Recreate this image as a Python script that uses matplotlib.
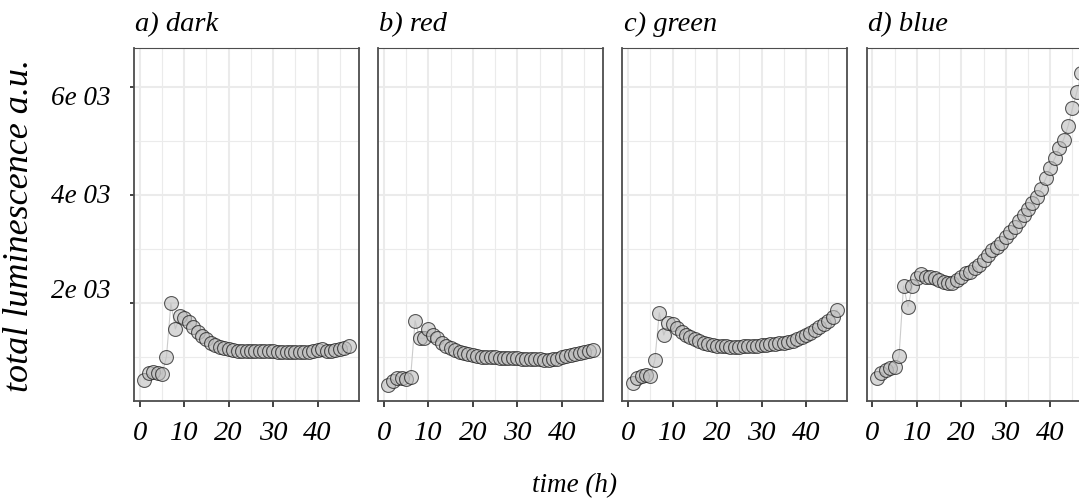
import matplotlib.pyplot as plt
from matplotlib.ticker import FixedLocator, MultipleLocator
from matplotlib.transforms import ScaledTranslation

# hourly readings, t = 1..47 h
hours = list(range(1, 48))
dark = [565, 689, 719, 700, 676, 997, 1990, 1512, 1753, 1710,
        1647, 1543, 1462, 1382, 1320, 1257, 1214, 1183, 1153, 1134,
        1115, 1105, 1100, 1100, 1098, 1100, 1102, 1100, 1098, 1095,
        1090, 1088, 1085, 1083, 1080, 1080, 1082, 1088, 1100, 1115,
        1140, 1105, 1110, 1125, 1140, 1160, 1196]
red = [472, 552, 596, 596, 578, 626, 1666, 1339, 1339, 1512,
       1400, 1339, 1257, 1196, 1153, 1122, 1090, 1066, 1041, 1029,
       1010, 1000, 995, 990, 985, 980, 975, 970, 968, 965,
       960, 958, 955, 952, 950, 945, 945, 950, 960, 1000,
       1010, 1030, 1050, 1070, 1090, 1100, 1122]
green = [514, 596, 639, 657, 639, 936, 1814, 1400, 1617, 1604,
         1524, 1462, 1400, 1357, 1320, 1289, 1257, 1233, 1214, 1201,
         1196, 1190, 1175, 1175, 1183, 1190, 1196, 1200, 1205, 1214,
         1220, 1227, 1236, 1245, 1257, 1276, 1295, 1320, 1357, 1400,
         1443, 1493, 1543, 1604, 1666, 1740, 1864]
blue = [596, 689, 750, 782, 800, 1010, 2310, 1926, 2310, 2453,
        2533, 2483, 2472, 2453, 2422, 2390, 2371, 2360, 2420, 2480,
        2546, 2576, 2639, 2700, 2793, 2886, 2979, 3040, 3114, 3214,
        3318, 3411, 3523, 3629, 3734, 3846, 3968, 4120, 4310, 4500,
        4680, 4870, 5030, 5280, 5610, 5920, 6260]

panel_titles = ['a) dark', 'b) red', 'c) green', 'd) blue']
x_ticks = [0, 10, 20, 30, 40]
y_ticks = [2000, 4000, 6000]
y_tick_labels = ['2e 03', '4e 03', '6e 03']

plt.rcParams['font.family'] = ['Liberation Serif', 'DejaVu Serif']
plt.rcParams['font.style'] = 'italic'
plt.rcParams['font.size'] = 20

W, H = 1079, 498
fig = plt.figure(figsize=(W / 100, H / 100), dpi=100)

# panel geometry in pixels (last panel runs past the right edge)
left0, step, pw = 134, 244.2, 225
top, bottom = 48, 401
border = '#4d4d4d'

for i, (title, vals) in enumerate(zip(panel_titles, [dark, red, green, blue])):
    ax = fig.add_axes([(left0 + i * step) / W, 1 - bottom / H, pw / W, (bottom - top) / H])
    ax.set_xlim(-1.3, 49.3)
    ax.set_ylim(175, 6730)

    ax.xaxis.set_major_locator(FixedLocator(x_ticks))
    ax.xaxis.set_minor_locator(MultipleLocator(5))
    ax.yaxis.set_minor_locator(MultipleLocator(1000))
    ax.set_yticks(y_ticks, y_tick_labels if i == 0 else [])

    ax.set_axisbelow(True)
    ax.grid(which='major', color='#ebebeb', lw=1.5)
    ax.grid(which='minor', color='#ebebeb', lw=0.8)

    for side in ['left', 'right', 'bottom']:
        ax.spines[side].set_color(border)
        ax.spines[side].set_linewidth(1.3)
    ax.spines['top'].set_color(border)
    ax.spines['top'].set_linewidth(0.8)

    ax.tick_params(which='minor', length=0)
    ax.tick_params(axis='x', which='major', length=4, width=1.3, color='#333333',
                   pad=10.5, labelsize=20.5)
    if i == 0:
        ax.tick_params(axis='y', which='major', length=3, width=1.3, color='#333333',
                       pad=13.5, labelsize=19.5)
        # labels sit slightly off their ticks in the original
        for tick, dy in zip(ax.yaxis.get_major_ticks(), [14.5, 2, -8]):
            lbl = tick.label1
            lbl.set_transform(lbl.get_transform() + ScaledTranslation(0, dy / 100, fig.dpi_scale_trans))
    else:
        ax.tick_params(axis='y', which='major', length=0, labelleft=False)

    ax.plot(hours, vals, color='#cccccc', lw=0.8, zorder=2)
    ax.plot(hours, vals, ls='none', marker='o', ms=10,
            mfc=(0.74, 0.74, 0.74, 0.6), mec=(0.1, 0.1, 0.1, 0.7), mew=0.8, zorder=3)

    ax.text(0.005, 1.048, title, transform=ax.transAxes, ha='left', va='baseline', fontsize=20.5)

fig.text(20 / W, 1 - 226 / H, 'total luminescence a.u.', rotation=90, ha='center', va='center',
         fontsize=26)
fig.text(575 / W, 1 - 486 / H, 'time (h)', ha='center', va='center', fontsize=19.5)

fig.savefig('out.png', dpi=100)
